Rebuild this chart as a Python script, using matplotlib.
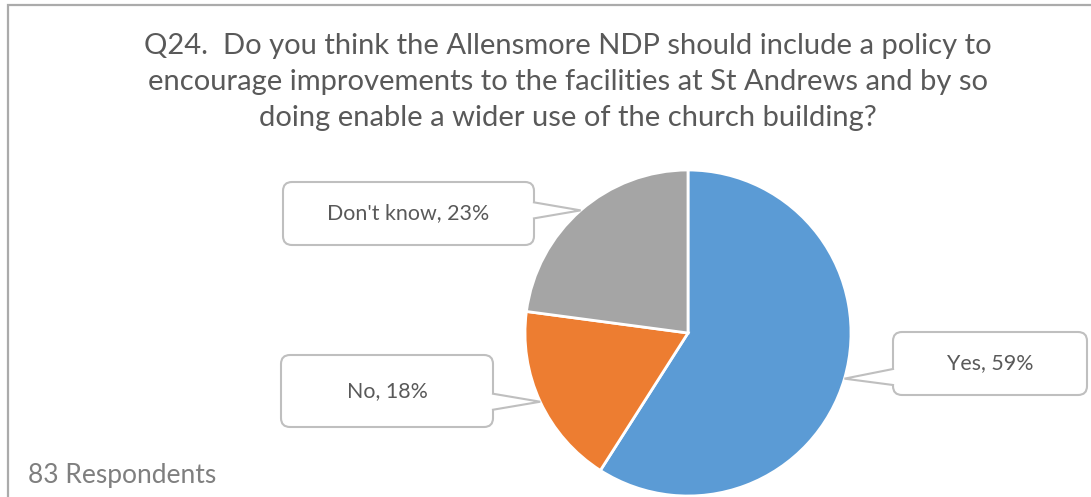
import matplotlib.pyplot as plt
from matplotlib.patches import FancyBboxPatch, Polygon, Rectangle
import numpy as np

# Survey answers (83 respondents)
answers = ['Yes', 'No', "Don't know"]
counts = [49, 15, 19]
percent_labels = ['59%', '18%', '23%']
colors = ['#5B9BD5', '#ED7D31', '#A5A5A5']
title = ('Q24.  Do you think the Allensmore NDP should include a policy to\n'
         'encourage improvements to the facilities at St Andrews and by so\n'
         'doing enable a wider use of the church building?')
footnote = '83 Respondents'

W, H = 1091, 497
plt.rcParams['font.family'] = ['Lato', 'DejaVu Sans']

fig = plt.figure(figsize=(W / 100, H / 100), dpi=100)
ax = fig.add_axes([0, 0, 1, 1])

# pie in pixel units (y measured from bottom)
cx, cy, r = 688, H - 333, 163
wedges, _ = ax.pie(counts, colors=colors, startangle=90, counterclock=False,
                   center=(cx, cy), radius=r,
                   wedgeprops=dict(edgecolor='white', linewidth=2))

ax.set_xlim(0, W)
ax.set_ylim(0, H)
ax.axis('off')

# outer chart border
ax.add_patch(Rectangle((8, -10), W + 20, H - 5 + 10, fill=False,
                       edgecolor='#ABABAB', linewidth=1.6))

# callout boxes: (left, top, right, bottom) in pixels from top
boxes = [(893, 332, 1087, 395), (281, 355, 493, 427), (283, 182, 534, 245)]

for wedge, name, pct, (l, t, rr, b) in zip(wedges, answers, percent_labels, boxes):
    mid = np.deg2rad((wedge.theta1 + wedge.theta2) / 2)
    tx, ty = cx + r * np.cos(mid), cy + r * np.sin(mid)
    top, bot = H - t, H - b
    box = FancyBboxPatch((l, bot), rr - l, top - bot,
                         boxstyle='round,pad=0,rounding_size=9',
                         facecolor='white', edgecolor='#BFBFBF', linewidth=1.5,
                         zorder=5)
    ax.add_patch(box)
    # pointer base on the side facing the pie
    side = -1 if tx < l else 1
    bx = l if side < 0 else rr
    by = min(max(ty, bot + 18), top - 18)
    p1, p2 = (bx, by + 8), (bx, by - 8)
    inner = bx - side * 3
    ax.add_patch(Polygon([(inner, by + 7), p1, (tx, ty), p2, (inner, by - 7)],
                         closed=True, facecolor='white', edgecolor='none',
                         zorder=6))
    ax.plot([p1[0], tx, p2[0]], [p1[1], ty, p2[1]], color='#BFBFBF',
            linewidth=1.5, zorder=7, solid_joinstyle='miter')
    ax.text((l + rr) / 2, (top + bot) / 2, f'{name}, {pct}', ha='center',
            va='center', fontsize=15.4, color='#595959', zorder=8)

fig.text(568 / W, 1 - 82 / H, title, ha='center', va='center', fontsize=21,
         color='#595959', linespacing=1.48)
fig.text(28 / W, 1 - 476 / H, footnote, ha='left', va='center', fontsize=19,
         color='#7F7F7F')

fig.savefig('out.png', dpi=100)
